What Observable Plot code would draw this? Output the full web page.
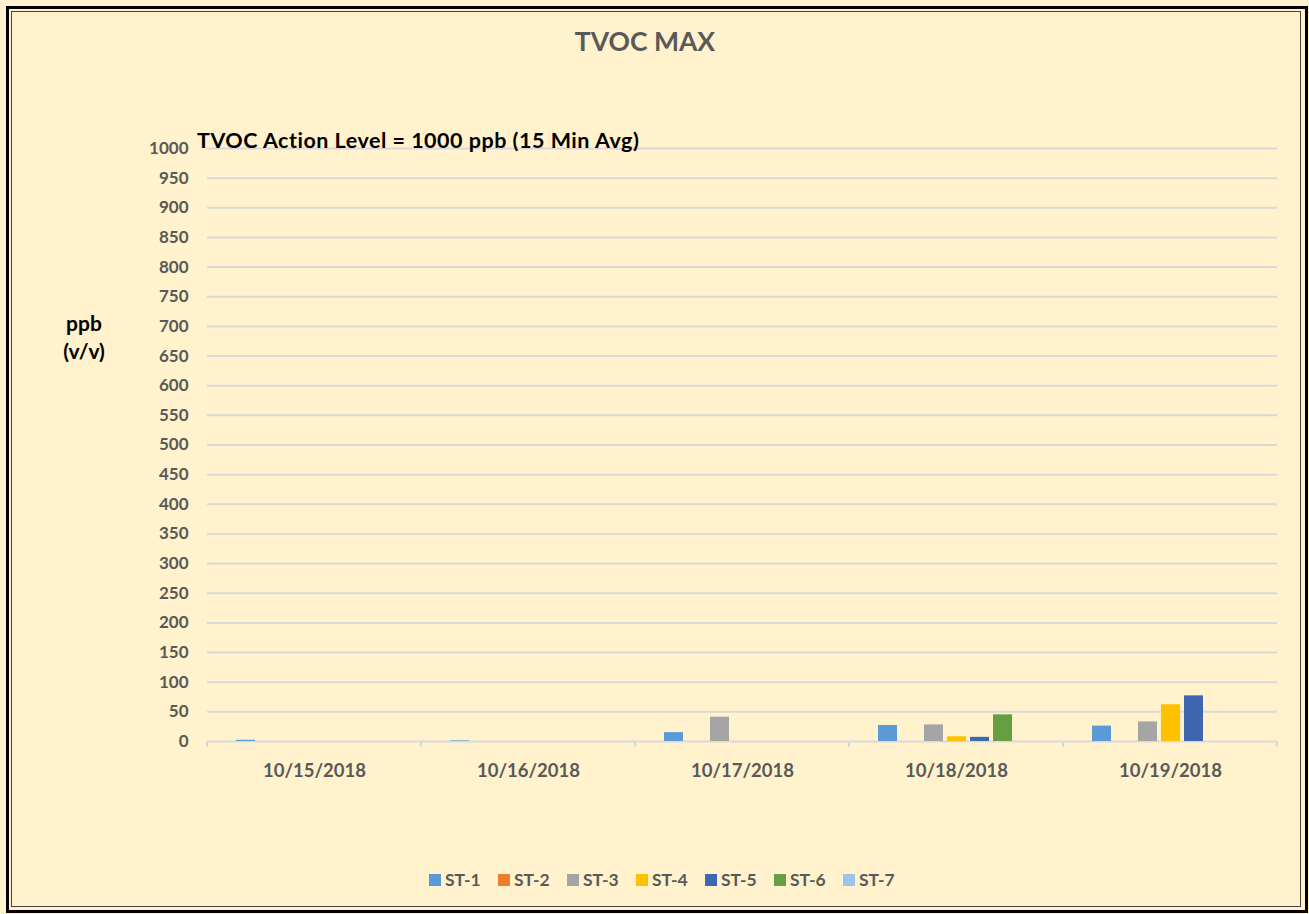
<!DOCTYPE html>
<html><head><meta charset="utf-8">
<script src="https://cdn.jsdelivr.net/npm/d3@7"></script>
<script src="https://cdn.jsdelivr.net/npm/@observablehq/plot@0.6"></script>
<style>
html,body{margin:0;padding:0;background:#FFF2CC;}
#chart{position:relative;width:1309px;height:914px;background:#FFF2CC;font-family:Lato,"Open Sans",sans-serif;overflow:hidden;}
#frame{position:absolute;left:6px;top:6px;width:1296px;height:901px;border:3px solid #000;box-sizing:content-box;}
#frame2{position:absolute;left:11px;top:11px;width:1288px;height:894px;border:1px solid #444;}
#title{position:absolute;left:0;width:1290px;top:25px;text-align:center;font-weight:bold;font-size:26.5px;color:#595959;}
#plot{position:absolute;left:0;top:0;}
#plot svg{overflow:visible;}
#ylabel{position:absolute;left:44px;width:80px;top:309px;text-align:center;font-weight:bold;font-size:21px;line-height:28px;color:#000;}
#note{position:absolute;left:197px;top:127px;font-weight:bold;font-size:21.5px;letter-spacing:0.5px;color:#000;white-space:nowrap;}
#legend{position:absolute;left:429px;top:869px;display:flex;font-weight:bold;font-size:17.5px;color:#595959;}
#legend .item{display:flex;align-items:center;width:69px;}
#legend .sw{width:12px;height:12px;margin-right:4px;}
</style></head><body>
<div id="chart">
  <div id="frame"></div><div id="frame2"></div>
  <div id="title">TVOC MAX</div>
  <div id="plot"></div>
  <div id="ylabel">ppb<br>(v/v)</div>
  <div id="note">TVOC Action Level = 1000 ppb (15 Min Avg)</div>
  <div id="legend"></div>
</div>
<script>
const dates = ["10/15/2018", "10/16/2018", "10/17/2018", "10/18/2018", "10/19/2018"];
const series = ["ST-1", "ST-2", "ST-3", "ST-4", "ST-5", "ST-6", "ST-7"];
const colors = ["#5B9BD5", "#ED7D31", "#A5A5A5", "#FFC000", "#3F67B1", "#659F42", "#9DC3E6"];
const st1 = [2, 1, 15, 27, 26];
const st2 = [0, 0, 0, 0, 0];
const st3 = [0, 0, 41, 28, 33];
const st4 = [0, 0, 0, 8, 62];
const st5 = [0, 0, 0, 7, 77];
const st6 = [0, 0, 0, 45, 0];
const st7 = [0, 0, 0, 0, 0];
const yTicks = [0, 50, 100, 150, 200, 250, 300, 350, 400, 450, 500, 550, 600, 650, 700, 750, 800, 850, 900, 950, 1000];

const seriesValues = [st1, st2, st3, st4, st5, st6, st7];
const data = [];
dates.forEach((d, i) => series.forEach((s, j) => data.push({date: d, series: s, value: seriesValues[j][i]})));

const plot = Plot.plot({
  width: 1309, height: 800,
  marginTop: 148, marginBottom: 59, marginLeft: 206, marginRight: 31,
  style: {background: "transparent", fontFamily: "Lato, 'Open Sans', sans-serif", fontWeight: "bold", fontSize: "17px", color: "#595959", overflow: "visible"},
  fx: {domain: dates, padding: 0, label: null, axis: "bottom", tickSize: 0, tickPadding: 22},
  x: {domain: series, paddingInner: 0.19, paddingOuter: 1.17, axis: null},
  y: {domain: [0, 1000], ticks: yTicks, tickSize: 0, tickPadding: 19, label: null, tickFormat: d => String(d)},
  color: {domain: series, range: colors},
  marks: [
    Plot.ruleY(yTicks, {stroke: "#D9D9D9", strokeWidth: 2}),
    Plot.barY(data, {fx: "date", x: "series", y: "value", fill: "series"})
  ]
});
document.getElementById("plot").appendChild(plot);

d3.select(plot).selectAll('[aria-label="fx-axis tick label"] text, [aria-label="fx-axis"] text').style("font-size", "18.5px");

try {
  const fx = plot.scale("fx"), y = plot.scale("y");
  const y0 = y.apply(0);
  const edges = dates.map(d => fx.apply(d));
  edges.push(fx.apply(dates[dates.length - 1]) + fx.bandwidth);
  d3.select(plot).append("g").selectAll("line").data(edges).join("line")
    .attr("x1", d => d).attr("x2", d => d).attr("y1", y0).attr("y2", y0 + 6)
    .attr("stroke", "#D9D9D9").attr("stroke-width", 2);
} catch (e) {}

const legend = d3.select("#legend");
series.forEach((s, i) => {
  const it = legend.append("div").attr("class", "item");
  it.append("div").attr("class", "sw").style("background", colors[i]);
  it.append("span").text(s);
});
</script>
</body></html>
